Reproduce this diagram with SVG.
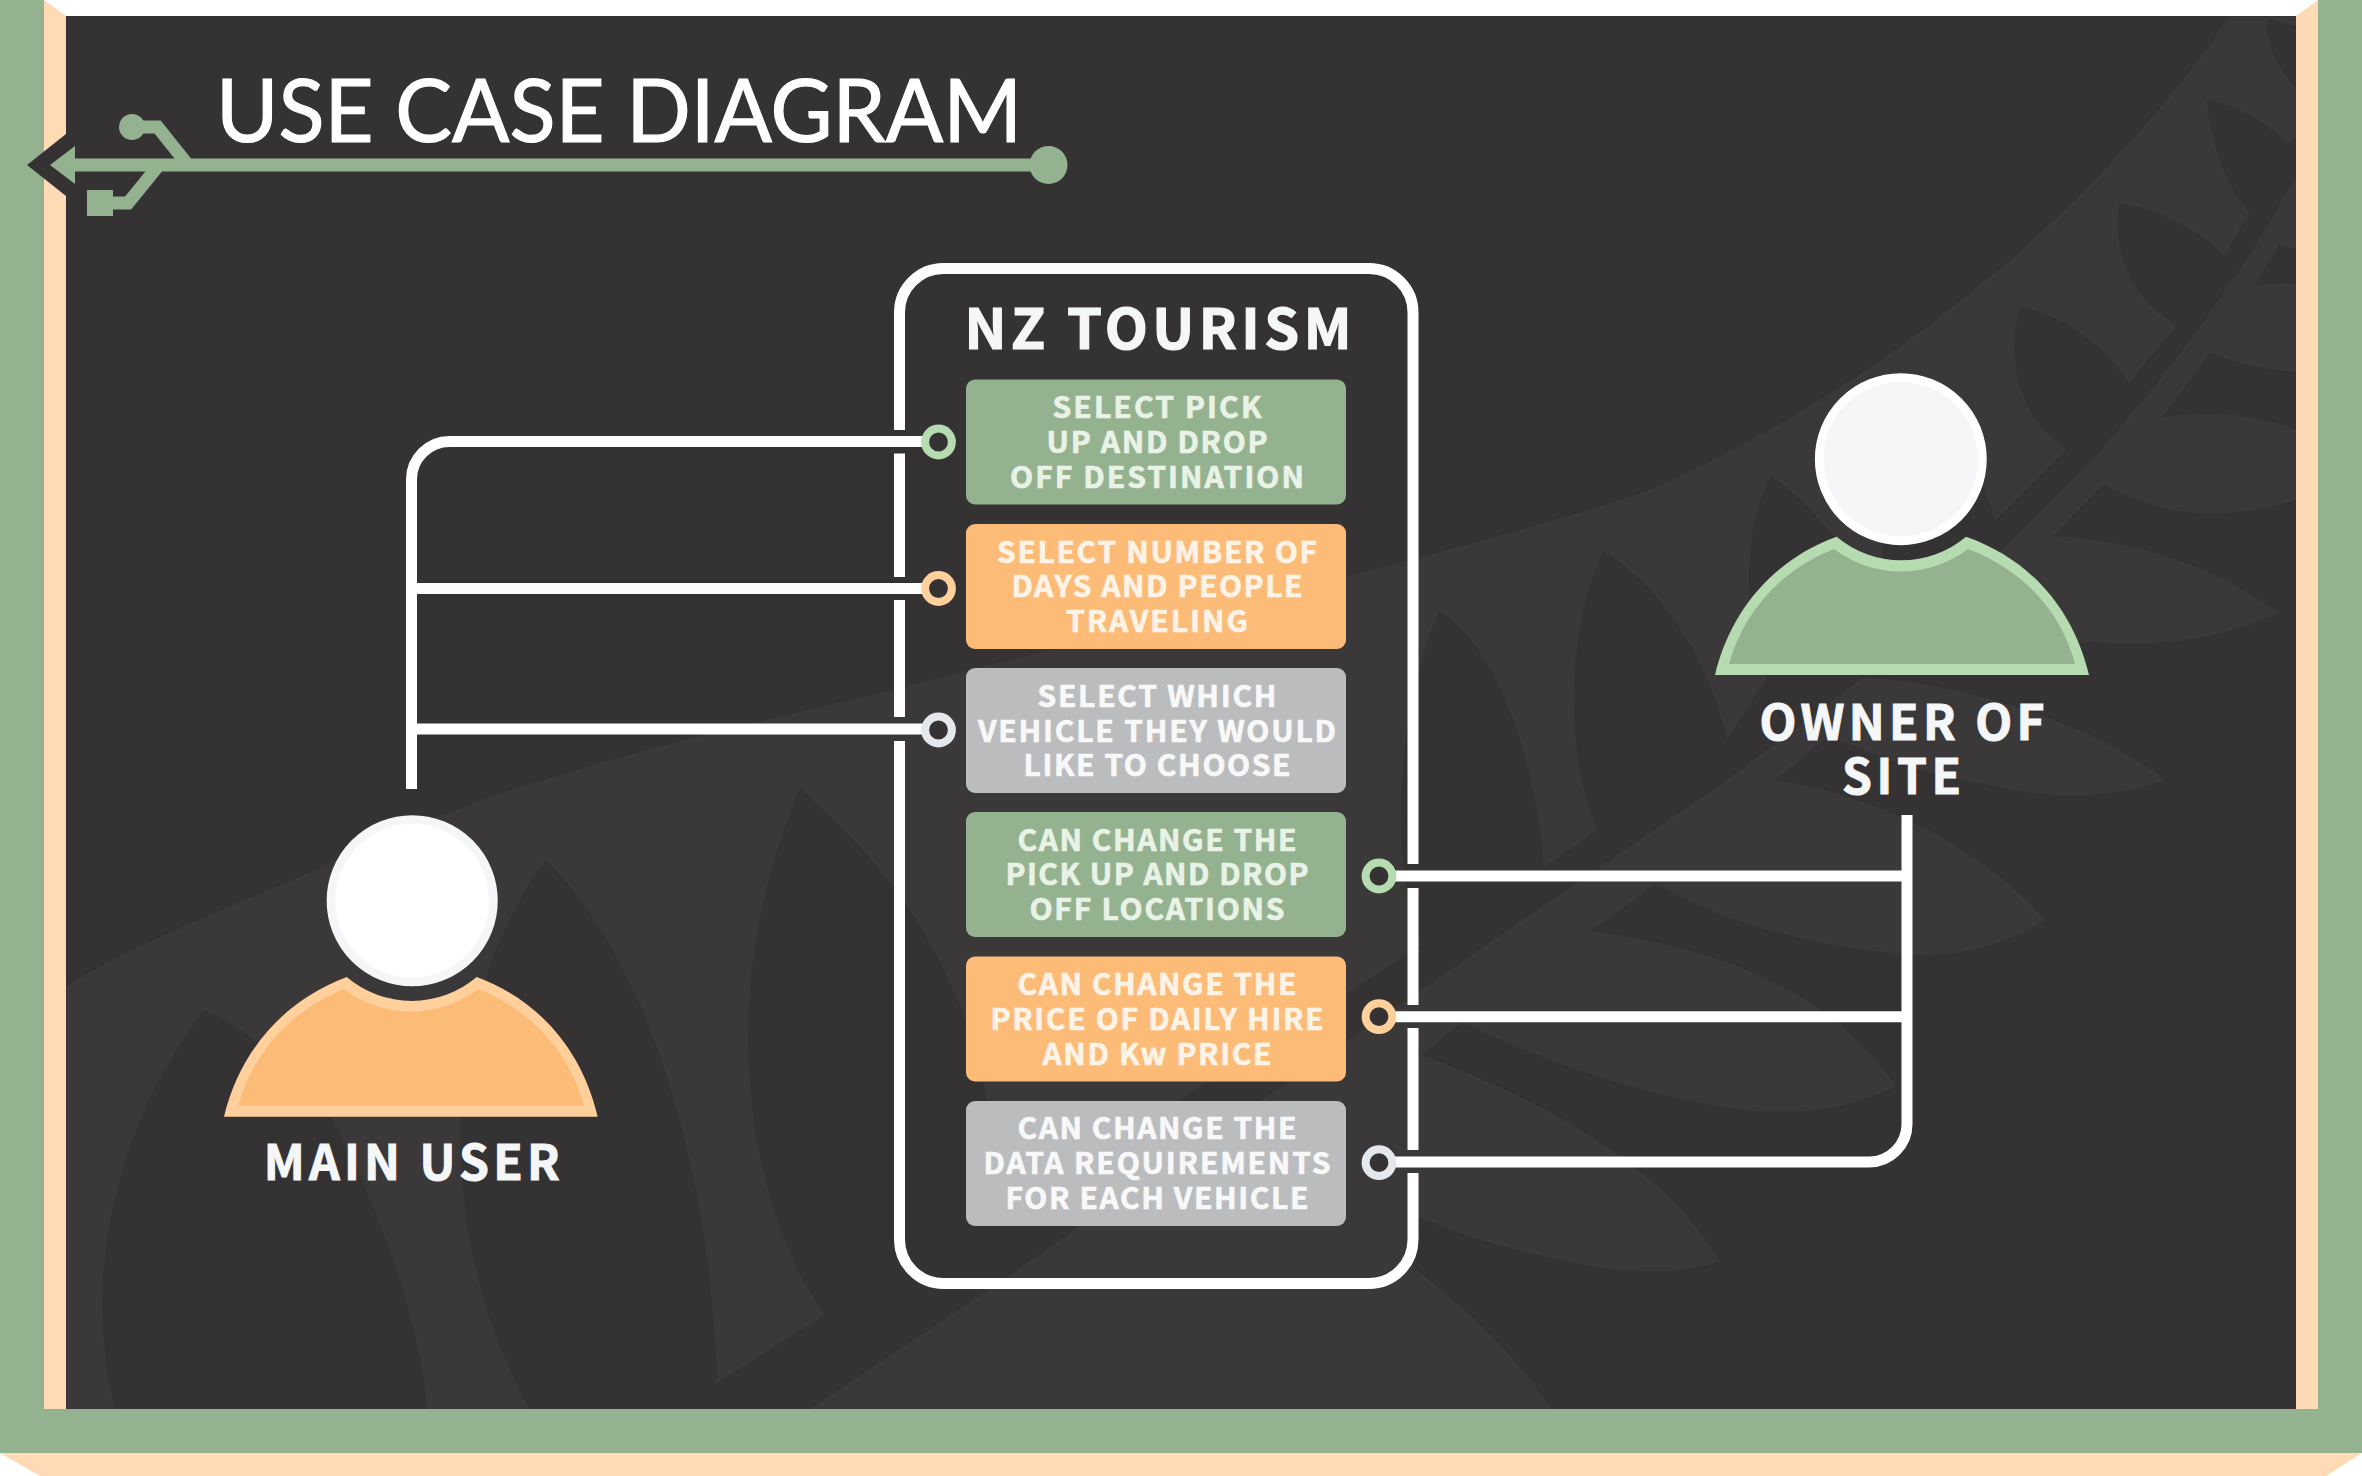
<svg xmlns="http://www.w3.org/2000/svg" width="2362" height="1476" viewBox="0 0 2362 1476">
<style>
.lt{fill:#3a3839}
.dk{fill:#343233}
.wire{fill:none;stroke:#fff;stroke-width:11}
.g{fill:#94b28f}
.o{fill:#fdbb78}
.s{fill:#bbbcbe}
.port{fill:#343233;stroke-width:8}
text{font-family:"Noto Sans CJK SC","Source Sans Pro","Noto Sans",sans-serif;font-weight:700;text-anchor:middle}
.cap{font-size:30px;stroke-width:.7px}
.tg{fill:#e9f2e6;stroke:#e9f2e6}
.to{fill:#fdf3e7;stroke:#fdf3e7}
.ts{fill:#f8f8f8;stroke:#f8f8f8}
.lab{font-size:48px;fill:#f4f6f8;stroke:#f4f6f8;stroke-width:1px}
</style>
<rect width="2362" height="1476" fill="#fff"/>
<g id="frame">
<rect x="66" y="16" width="2230" height="1393" fill="#343233"/>
<g id="fern">
<path class="lt" d="M66,986 C150,935 240,905 332,862 C500,780 700,735 893,690 C1120,630 1400,570 1639,494 C1710,465 1780,425 1840,387 C1900,350 1990,280 2040,233 C2090,190 2135,135 2167,100 C2190,70 2212,45 2228,17 L2296,17 V1409 H66 Z"/>
<path class="dk" d="M2268,18 L2296,26 V87 C2280,70 2262,40 2268,18 Z"/>
<path class="dk" d="M2279,244 C2285,247 2290,248 2296,248 V284 C2280,283 2265,284 2255,286 Z"/>
<path class="dk" d="M2210,353 C2240,365 2270,370 2296,372 V430 C2260,415 2215,410 2163,417 Z"/>
<path class="dk" d="M2296,500 C2250,516 2170,525 2104,484 L2053,536 C2110,540 2190,550 2279,613 C2200,650 2100,655 1960,620 L1855,677 C1950,680 2090,720 2165,780 C2110,800 2050,800 1990,785 C1930,775 1880,760 1830,735 L1775,780 C1880,795 1985,850 2045,920 C2000,950 1940,960 1896,953 C1810,945 1730,925 1656,884 L1591,931 C1690,945 1820,975 1896,1086 C1840,1115 1780,1115 1730,1108 C1640,1095 1540,1060 1462,1022 L1422,1055 C1530,1095 1660,1160 1720,1261 C1680,1275 1640,1272 1600,1268 C1530,1255 1470,1240 1415,1215 L1412,1266 C1480,1320 1520,1360 1551,1409 L2296,1409 Z"/>
<path class="dk" d="M2296,133 L2288,145 C2265,120 2235,105 2207,100 C2210,140 2225,185 2250,213 L2224,256 C2200,230 2160,210 2119,203 C2112,250 2130,300 2177,325 L2129,383 C2100,340 2060,315 2020,307 C2005,360 2020,420 2067,449 L1995,521 C1985,480 1960,430 1890,400 L1880,600 C1860,570 1810,500 1771,476 C1745,520 1740,620 1767,677 L1727,740 C1710,660 1660,585 1603,551 C1565,635 1565,760 1598,830 L1544,867 C1535,760 1500,650 1439,611 C1400,700 1385,860 1422,945 L1000,1215 C990,1060 960,930 800,788 C710,1000 750,1210 825,1315 L717,1383 C710,1150 640,950 545,860 C430,1020 440,1250 530,1409 H810 L982,1294 L1422,989 L1727,780 L1855,684 L2003,550 L2053,500 L2107,443 L2157,383 L2207,317 L2253,250 L2296,177 Z"/>
<path class="dk" d="M204,1010 C240,1025 300,1070 332,1119 C380,1210 420,1320 427,1409 H115 C80,1270 120,1120 204,1010 Z"/>
</g>
<path fill="#fedbb4" d="M44,0 L66,16 V1409 H44 Z"/>
<path fill="#fedbb4" d="M2318,0 L2296,16 V1409 H2318 Z"/>
<path fill="#fedbb4" d="M0,1453 H2362 L2326,1476 H40 Z"/>
<path class="g" d="M0,0 H44 V1409 H2318 V0 H2362 V1453 H0 Z"/>
</g>
<g id="title">
<path class="dk" d="M66,134 L27,165 L66,196 Z"/>
<path class="g" d="M50,165 L75,146 V184 Z"/>
<path fill="none" stroke="#94b28f" stroke-width="13" d="M70,165 H1040 M188,165 L157.500,127 H132 M159,165 L128,203 H100"/>
<circle class="g" cx="1048.500" cy="165" r="19"/>
<circle class="g" cx="132" cy="127" r="13"/>
<rect class="g" x="87" y="190" width="26" height="26"/>
<text x="619" y="142" textLength="806" lengthAdjust="spacingAndGlyphs" style="font-family:Lato,'Liberation Sans',sans-serif;font-weight:400;font-size:88px;fill:#fff;stroke:#fff;stroke-width:1.2px">USE CASE DIAGRAM</text>
</g>
<g id="connectors">
<path class="wire" d="M411.500,789 V479.500 A38,38 0 0 1 449.500,441.500 H925 M411.500,588.500 H925 M411.500,729 H925"/>
<path class="wire" d="M1907,815 V1124 A38,38 0 0 1 1869,1162 H1393 M1907,876 H1393 M1907,1016.700 H1393"/>
</g>
<g id="system">
<path class="wire" d="M899.500,430 V312.500 A44,44 0 0 1 943.500,268.500 H1369 A44,44 0 0 1 1413,312.500 V864 M1413,888 V1005 M1413,1028 V1150 M1413,1173 V1239.500 A44,44 0 0 1 1369,1283.500 H943.500 A44,44 0 0 1 899.500,1239.500 V741 M899.500,717 V600 M899.500,577 V453.500"/>
<text class="lab" x="1158" y="349" textLength="387" lengthAdjust="spacing" style="font-size:56px;stroke-width:1.2px">NZ TOURISM</text>
</g>
<g id="uc1">
<circle class="port" cx="938.500" cy="442" r="13.400" stroke="#b6dbb0"/>
<rect class="g" x="966" y="379.500" width="380" height="125" rx="9"/>
<text class="cap tg" x="1157" y="418" textLength="209" lengthAdjust="spacing">SELECT PICK</text>
<text class="cap tg" x="1157" y="453" textLength="221" lengthAdjust="spacing">UP AND DROP</text>
<text class="cap tg" x="1157" y="488" textLength="294" lengthAdjust="spacing">OFF DESTINATION</text>
</g>
<g id="uc2">
<circle class="port" cx="938.500" cy="588.500" r="13.400" stroke="#ffd09b"/>
<rect class="o" x="966" y="524" width="380" height="125" rx="9"/>
<text class="cap to" x="1157" y="563" textLength="320" lengthAdjust="spacing">SELECT NUMBER OF</text>
<text class="cap to" x="1157" y="597" textLength="291" lengthAdjust="spacing">DAYS AND PEOPLE</text>
<text class="cap to" x="1157" y="632" textLength="182" lengthAdjust="spacing">TRAVELING</text>
</g>
<g id="uc3">
<circle class="port" cx="938.500" cy="730" r="13.400" stroke="#e4e7eb"/>
<rect class="s" x="966" y="668" width="380" height="125" rx="9"/>
<text class="cap ts" x="1157" y="707" textLength="239" lengthAdjust="spacing">SELECT WHICH</text>
<text class="cap ts" x="1157" y="741.500" textLength="358" lengthAdjust="spacing">VEHICLE THEY WOULD</text>
<text class="cap ts" x="1157" y="776" textLength="267" lengthAdjust="spacing">LIKE TO CHOOSE</text>
</g>
<g id="uc4">
<circle class="port" cx="1379" cy="876" r="13.400" stroke="#b6dbb0"/>
<rect class="g" x="966" y="812" width="380" height="125" rx="9"/>
<text class="cap tg" x="1157" y="851" textLength="279" lengthAdjust="spacing">CAN CHANGE THE</text>
<text class="cap tg" x="1157" y="885" textLength="303" lengthAdjust="spacing">PICK UP AND DROP</text>
<text class="cap tg" x="1157" y="920" textLength="255" lengthAdjust="spacing">OFF LOCATIONS</text>
</g>
<g id="uc5">
<circle class="port" cx="1379" cy="1016.700" r="13.400" stroke="#ffd09b"/>
<rect class="o" x="966" y="956.500" width="380" height="125" rx="9"/>
<text class="cap to" x="1157" y="995" textLength="279" lengthAdjust="spacing">CAN CHANGE THE</text>
<text class="cap to" x="1157" y="1030" textLength="333" lengthAdjust="spacing">PRICE OF DAILY HIRE</text>
<text class="cap to" x="1157" y="1064.500" textLength="229" lengthAdjust="spacing">AND Kw PRICE</text>
</g>
<g id="uc6">
<circle class="port" cx="1379" cy="1162.700" r="13.400" stroke="#e4e7eb"/>
<rect class="s" x="966" y="1101" width="380" height="125" rx="9"/>
<text class="cap ts" x="1157" y="1139" textLength="279" lengthAdjust="spacing">CAN CHANGE THE</text>
<text class="cap ts" x="1157" y="1174" textLength="347" lengthAdjust="spacing">DATA REQUIREMENTS</text>
<text class="cap ts" x="1157" y="1209" textLength="303" lengthAdjust="spacing">FOR EACH VEHICLE</text>
</g>
<g id="main-user">
<circle cx="412.200" cy="900.700" r="81.200" fill="#fff" stroke="#f4f6f8" stroke-width="8.700"/>
<path fill="#ffcf9c" d="M224,1116.700 C240,1050 285,1000 346.700,977 A100.400,100.400 0 0 0 476.700,977 C539,1000 582,1050 597.700,1116.700 Z"/>
<path class="o" d="M238.300,1105.700 C253,1052 292,1010 344,989 A111,111 0 0 0 478,989 C530,1010 570,1052 584,1105.700 Z"/>
<text class="lab" x="411.700" y="1179.500" textLength="296" lengthAdjust="spacing">MAIN USER</text>
</g>
<g id="owner">
<circle cx="1900.800" cy="459.200" r="81.600" fill="#f4f6f8" stroke="#fff" stroke-width="8.700"/>
<path fill="#b6dbb0" d="M1715,675 C1731,608 1776,558.500 1836.700,536.700 A100.400,100.400 0 0 0 1966,536.700 C2029,558.500 2073,608 2089,675 Z"/>
<path class="g" d="M1729,664 C1744,610 1783,569 1834,549 A111,111 0 0 0 1968,549 C2021,569 2061,610 2075,664 Z"/>
<text class="lab" x="1902" y="739.500" textLength="285" lengthAdjust="spacing">OWNER OF</text>
<text class="lab" x="1901.500" y="793.500" textLength="119" lengthAdjust="spacing">SITE</text>
</g>
</svg>
